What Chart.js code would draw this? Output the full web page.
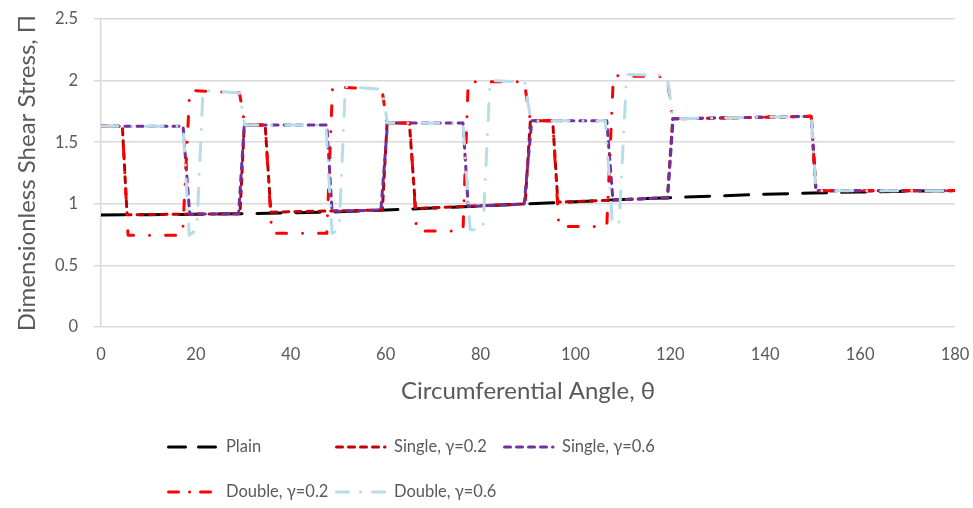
<!DOCTYPE html>
<html>
<head>
<meta charset="utf-8">
<script src="https://cdn.jsdelivr.net/npm/chart.js@4.4.0/dist/chart.umd.min.js"></script>
<style>
  html, body { margin: 0; padding: 0; background: #ffffff; overflow: hidden; }
  #wrap { width: 973px; height: 508px; position: relative; overflow: hidden; }
  #chart { display: block; }
</style>
</head>
<body>
<div id="wrap"><canvas id="chart"></canvas></div>
<script>
// Axis ticks
const xTicks = [0, 20, 40, 60, 80, 100, 120, 140, 160, 180];
const yTicks = [0, 0.5, 1, 1.5, 2, 2.5];

// Plain bearing
const plainAngle = [0, 10, 20, 30, 40, 50, 60, 70, 80, 90, 100, 110, 120, 130, 140, 150, 160, 170, 180];
const plainValue = [0.91, 0.911, 0.915, 0.92, 0.926, 0.935, 0.95, 0.965, 0.982, 1.0, 1.017, 1.034, 1.05, 1.064, 1.077, 1.088, 1.096, 1.102, 1.106];

// Single texture, gamma = 0.2
const single02Angle = [0, 4.5, 5.5, 29.3, 30.2, 34.6, 35.8, 59.3, 60.3, 65.0, 66.3, 89.4, 90.5, 95.2, 96.3, 119.4, 120.5, 149.7, 150.7, 180];
const single02Value = [1.63, 1.63, 0.911, 0.92, 1.64, 1.64, 0.932, 0.95, 1.655, 1.655, 0.962, 0.999, 1.675, 1.675, 1.013, 1.048, 1.69, 1.71, 1.105, 1.107];

// Single texture, gamma = 0.6
const single06Angle = [0, 17.3, 18.7, 29.0, 30.2, 47.6, 48.7, 59.0, 60.4, 76.3, 77.4, 89.2, 90.8, 106.6, 107.9, 119.4, 120.6, 149.7, 150.7, 180];
const single06Value = [1.63, 1.63, 0.915, 0.92, 1.64, 1.64, 0.938, 0.95, 1.655, 1.655, 0.978, 0.999, 1.675, 1.675, 1.03, 1.048, 1.69, 1.71, 1.105, 1.107];

// Double texture, gamma = 0.2
const double02Angle = [0, 4.5, 5.7, 17.2, 18.7, 29.2, 30.3, 34.6, 36.0, 47.6, 48.8, 59.2, 60.3, 65.1, 66.5, 76.3, 77.4, 89.2, 90.5, 95.2, 96.5, 106.6, 108.0, 119.3, 120.5, 149.7, 150.7, 180];
const double02Value = [1.63, 1.63, 0.745, 0.745, 1.92, 1.90, 1.64, 1.64, 0.76, 0.76, 1.95, 1.93, 1.655, 1.655, 0.78, 0.78, 1.99, 1.99, 1.675, 1.675, 0.815, 0.815, 2.04, 2.03, 1.69, 1.71, 1.105, 1.107];

// Double texture, gamma = 0.6
const double06Angle = [0, 17.3, 18.6, 20.2, 21.5, 29.2, 30.3, 47.4, 48.7, 50.2, 51.5, 59.2, 60.4, 76.3, 77.8, 80.5, 82.0, 89.3, 90.6, 106.3, 107.8, 109.2, 110.8, 119.3, 120.6, 149.7, 150.7, 180];
const double06Value = [1.63, 1.63, 0.745, 0.79, 1.92, 1.90, 1.64, 1.64, 0.76, 0.79, 1.95, 1.93, 1.655, 1.655, 0.79, 0.79, 2.0, 1.99, 1.675, 1.675, 0.83, 0.84, 2.05, 2.04, 1.69, 1.71, 1.105, 1.107];

const seriesLabels = ['Plain', 'Single, \u03b3=0.2', 'Single, \u03b3=0.6', 'Double, \u03b3=0.2', 'Double, \u03b3=0.6'];

function toPoints(xs, ys) {
  return xs.map((x, i) => ({ x: x, y: ys[i] }));
}

const FONT = 'Lato, "Open Sans", sans-serif';
const TEXT = '#595959';
const GRID = '#D9D9D9';

function lineSet(label, xs, ys, color, dash, legendDash, order) {
  return {
    label: label,
    data: toPoints(xs, ys),
    borderColor: color,
    backgroundColor: color,
    borderWidth: 3,
    borderDash: dash,
    legendDash: legendDash,
    borderCapStyle: 'round',
    borderJoinStyle: 'round',
    pointRadius: 0,
    pointHoverRadius: 0,
    tension: 0,
    fill: false,
    order: order
  };
}

// Legend laid out on a fixed grid below the axis title
const gridLegend = {
  id: 'gridLegend',
  afterDraw(chart) {
    const ctx = chart.ctx;
    const cols = [167, 335, 503];
    const rows = [447, 492];
    const slots = [[0, 0], [0, 1], [0, 2], [1, 0], [1, 1]];
    chart.data.datasets.forEach((ds, i) => {
      const r = slots[i][0], c = slots[i][1];
      const x = cols[c], y = rows[r];
      ctx.save();
      ctx.strokeStyle = ds.borderColor;
      ctx.lineWidth = ds.borderWidth;
      ctx.lineCap = 'round';
      ctx.setLineDash(ds.legendDash);
      ctx.beginPath();
      ctx.moveTo(x + 1.5, y);
      ctx.lineTo(x + 50, y);
      ctx.stroke();
      ctx.setLineDash([]);
      ctx.fillStyle = TEXT;
      ctx.font = '16.5px ' + FONT;
      ctx.textBaseline = 'middle';
      ctx.textAlign = 'left';
      ctx.fillText(ds.label, x + 59, y);
      ctx.restore();
    });
  }
};

new Chart(document.getElementById('chart'), {
  type: 'line',
  data: {
    datasets: [
      lineSet(seriesLabels[0], plainAngle, plainValue, '#000000', [24, 15], [17, 13], 5),
      lineSet(seriesLabels[1], single02Angle, single02Value, '#C00000', [6, 6], [6, 6], 4),
      lineSet(seriesLabels[2], single06Angle, single06Value, '#7030A0', [6, 6], [6, 6], 3),
      lineSet(seriesLabels[3], double02Angle, double02Value, '#FF0000', [10, 16, 0.01, 16], [10, 11, 0.01, 11], 2),
      lineSet(seriesLabels[4], double06Angle, double06Value, '#B7DEE8', [17, 14, 0.01, 14], [12, 12, 0.01, 12], 1)
    ]
  },
  options: {
    responsive: true,
    maintainAspectRatio: false,
    animation: false,
    devicePixelRatio: 1,
    parsing: false,
    layout: { padding: { top: 19, right: 18, bottom: 98, left: 0 } },
    plugins: {
      legend: { display: false },
      tooltip: { enabled: false }
    },
    scales: {
      x: {
        type: 'linear',
        min: 0,
        max: 180,
        afterBuildTicks: (scale) => { scale.ticks = xTicks.map(v => ({ value: v })); },
        afterFit: (scale) => {
          scale.height = 83;
          scale.paddingLeft = 0;
          scale.paddingRight = 0;
        },
        grid: { display: false, drawTicks: false },
        border: { display: false },
        ticks: {
          color: TEXT,
          font: { family: FONT, size: 16.5 },
          padding: 18,
          maxRotation: 0,
          callback: (v) => String(v)
        },
        title: {
          display: true,
          text: 'Circumferential Angle, \u03b8',
          color: TEXT,
          font: { family: FONT, size: 24 },
          padding: { top: 0, bottom: 4 }
        }
      },
      y: {
        type: 'linear',
        min: 0,
        max: 2.5,
        afterBuildTicks: (scale) => { scale.ticks = yTicks.map(v => ({ value: v })); },
        afterFit: (scale) => {
          scale.width = 101;
          scale.paddingTop = 0;
          scale.paddingBottom = 0;
        },
        grid: { color: GRID, lineWidth: 1.5, drawTicks: true, tickLength: 7 },
        border: { display: true, color: GRID, width: 1.5 },
        ticks: {
          color: TEXT,
          font: { family: FONT, size: 16.5 },
          padding: 16,
          callback: (v) => String(v)
        },
        title: {
          display: true,
          text: 'Dimensionless Shear Stress, \u03a0',
          color: TEXT,
          font: { family: FONT, size: 24 },
          padding: { top: 13, bottom: 0 }
        }
      }
    }
  },
  plugins: [gridLegend]
});
</script>
</body>
</html>
